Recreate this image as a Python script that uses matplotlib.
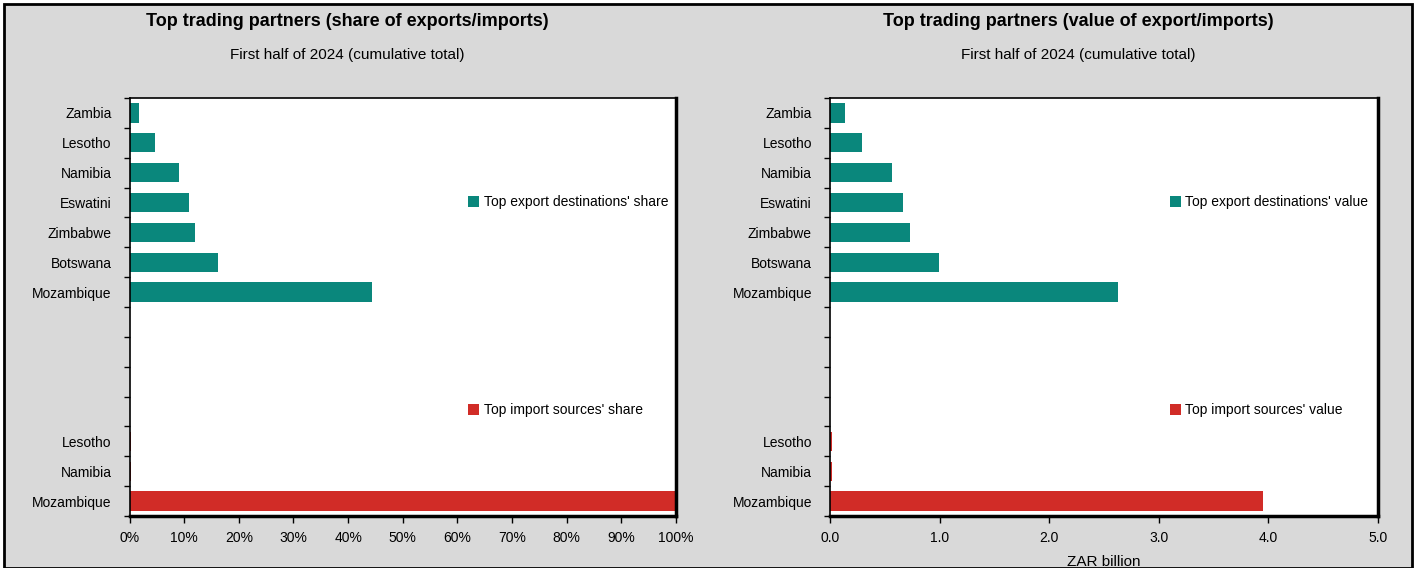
import matplotlib
matplotlib.use("Agg")
import matplotlib.pyplot as plt
from matplotlib.patches import Rectangle, Patch
from matplotlib.ticker import FuncFormatter
from matplotlib import font_manager

# ---------------- data ----------------
export_countries = ["Zambia", "Lesotho", "Namibia", "Eswatini", "Zimbabwe", "Botswana", "Mozambique"]
import_countries = ["Lesotho", "Namibia", "Mozambique"]

export_share = [1.7, 4.6, 9.1, 10.9, 12.0, 16.2, 44.3]       # %
import_share = [0.3, 0.3, 99.8]                               # %
export_value = [0.14, 0.29, 0.57, 0.67, 0.73, 0.99, 2.63]     # ZAR billion
import_value = [0.02, 0.02, 3.95]                             # ZAR billion

left_title = "Top trading partners (share of exports/imports)"
right_title = "Top trading partners (value of export/imports)"
subtitle = "First half of 2024 (cumulative total)"
left_legend = ["Top export destinations' share", "Top import sources' share"]
right_legend = ["Top export destinations' value", "Top import sources' value"]
right_xlabel = "ZAR billion"
left_xticks = list(range(0, 101, 10))
right_xticks = [0, 1, 2, 3, 4, 5]

# ---------------- style ----------------
names = {f.name for f in font_manager.fontManager.ttflist}
fam = "Liberation Sans Narrow" if "Liberation Sans Narrow" in names else "Liberation Sans"
plt.rcParams["font.family"] = [fam, "DejaVu Sans"]

TEAL = "#0a877c"
RED = "#d12c27"
GREY = "#d9d9d9"

W, H = 1419, 568
fig = plt.figure(figsize=(W / 100, H / 100), dpi=100)
fig.patch.set_facecolor("white")
bg = Rectangle((4 / W, 0), (1412 - 4) / W, (H - 4) / H, transform=fig.transFigure,
               facecolor=GREY, edgecolor="black", linewidth=2, zorder=-10)
fig.patches.append(bg)

n_slots = 14
export_pos = [i + 0.5 for i in range(len(export_countries))]
import_pos = [n_slots - len(import_countries) + i + 0.5 for i in range(len(import_countries))]


def make_panel(rect, xs_exp, xs_imp, xmax, xticks, fmt, title, legends, title_x, xlabel=None):
    ax = fig.add_axes(rect, zorder=5)
    ax.set_facecolor("white")
    ax.barh(export_pos, xs_exp, height=0.65, color=TEAL, zorder=2)
    ax.barh(import_pos, xs_imp, height=0.65, color=RED, zorder=2)
    ax.set_ylim(n_slots, 0)
    ax.set_xlim(0, xmax)
    ax.set_yticks(export_pos + import_pos)
    ax.set_yticklabels(export_countries + import_countries, fontsize=10)
    ax.set_yticks(range(n_slots + 1), minor=True)
    ax.tick_params(axis="y", which="major", length=0, pad=13)
    ax.tick_params(axis="y", which="minor", length=4, width=1, direction="out")
    ax.set_xticks(xticks)
    ax.xaxis.set_major_formatter(FuncFormatter(fmt))
    ax.tick_params(axis="x", which="major", length=5, width=1, direction="out", labelsize=10, pad=6)
    for s in ["top", "left"]:
        ax.spines[s].set_linewidth(1.2)
    for s in ["bottom", "right"]:
        ax.spines[s].set_linewidth(2.5)
    kw = dict(loc="center left", frameon=False, fontsize=10, handlelength=0.8, handleheight=0.8,
              handletextpad=0.3, borderpad=0, borderaxespad=0)
    l1 = ax.legend(handles=[Patch(facecolor=TEAL)], labels=[legends[0]],
                   bbox_to_anchor=(0.62, 0.751), **kw)
    ax.add_artist(l1)
    ax.legend(handles=[Patch(facecolor=RED)], labels=[legends[1]],
              bbox_to_anchor=(0.62, 0.253), **kw)
    fig.text(title_x / W, 1 - 22 / H, title, ha="center", va="center", fontsize=13, fontweight="bold")
    fig.text(title_x / W, 1 - 55 / H, subtitle, ha="center", va="center", fontsize=11)
    if xlabel:
        ax.set_xlabel(xlabel, fontsize=11, labelpad=7)
    return ax


make_panel([129.5 / W, 52 / H, 546.5 / W, 418 / H], export_share, import_share, 100,
           left_xticks, lambda v, p: f"{v:.0f}%", left_title, left_legend, 347)
make_panel([830 / W, 52 / H, 548 / W, 418 / H], export_value, import_value, 5,
           right_xticks, lambda v, p: f"{v:.1f}", right_title, right_legend, 1078, right_xlabel)

fig.savefig("out.png", dpi=100, facecolor=fig.get_facecolor())
